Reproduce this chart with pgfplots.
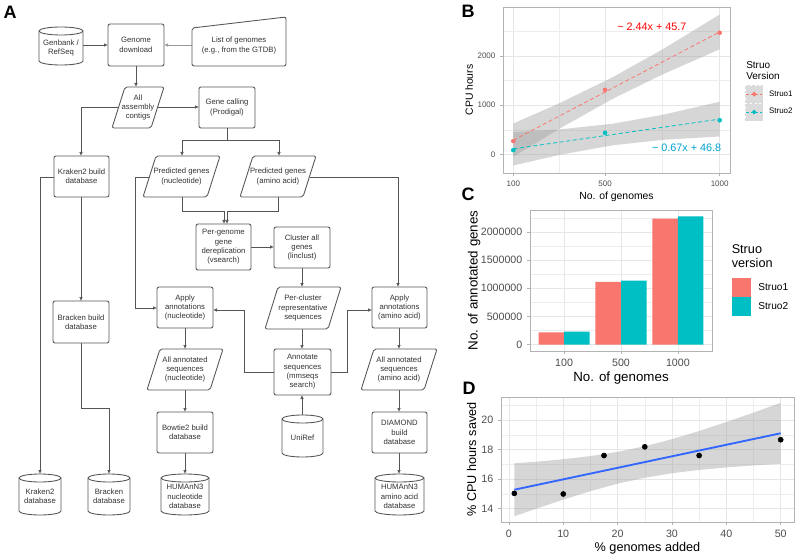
\documentclass[border=0pt]{standalone}
\usepackage{fontspec}
\setmainfont{Liberation Sans}
\usepackage{pgfplots}
\pgfplotsset{compat=1.18}
\usetikzlibrary{arrows.meta}
\definecolor{sone}{HTML}{F8766D}
\definecolor{stwo}{HTML}{00BFC4}
\definecolor{gridc}{HTML}{E6E6E6}
\definecolor{borderc}{HTML}{B3B3B3}
\definecolor{tickc}{HTML}{4D4D4D}
\definecolor{fl}{HTML}{555555}
\definecolor{smoothblue}{HTML}{3366FF}

\pgfplotsset{
  gg/.style={
    scale only axis,
    axis line style={borderc, line width=0.6pt},
    grid=both,
    major grid style={gridc, line width=0.5pt},
    minor grid style={gridc!70, line width=0.3pt},
    tick align=outside,
    tick pos=left,
    major tick length=2.2pt,
    minor tick length=0pt,
    tick style={borderc, line width=0.5pt},
    scaled ticks=false,
    /pgf/number format/assume math mode=true,
    ticklabel style={text=tickc},
  }
}
\tikzset{
  fctext/.style={align=center, font=\fontsize{5.8}{7}\selectfont, text=black!80, inner sep=0pt},
  fbox/.style={draw=fl, line width=0.65pt, fill=white},
  fe/.style={draw=fl, line width=0.5pt, -{Latex[length=3pt,width=2.6pt]}},
  fl0/.style={draw=fl, line width=0.5pt},
}
\newcommand{\rbox}[5]{%
  \draw[fbox, rounded corners=1.5pt] (#1,#2) rectangle (#3,#4);
  \node[fctext] at ({(#1+#3)/2},{(#2+#4)/2}) {#5};}
\newcommand{\pbox}[5]{%
  \draw[fbox, rounded corners=1.5pt] ({#1+13},#2) -- (#3,#2) -- ({#3-13},#4) -- (#1,#4) -- cycle;
  \node[fctext] at ({(#1+#3)/2},{(#2+#4)/2}) {#5};}
\newcommand{\cyl}[5]{%
  \pgfmathsetmacro\cylcx{(#1+#3)/2}\pgfmathsetmacro\cylrx{(#3-#1)/2}%
  \draw[fbox] (#1,{#2+4}) -- (#1,{#4-4}) arc[start angle=180, end angle=0, x radius=\cylrx, y radius=4] -- (#3,{#2+4}) arc[start angle=0, end angle=-180, x radius=\cylrx, y radius=4] -- cycle;
  \draw[fbox, fill=none] (#1,{#2+4}) arc[start angle=180, end angle=0, x radius=\cylrx, y radius=4];
  \node[fctext] at (\cylcx,{(#2+#4)/2+2}) {#5};}

\begin{document}
\begin{tikzpicture}
\path[use as bounding box] (0,0) rectangle (600pt,-417pt);

\begin{scope}[x=0.75pt,y=-0.75pt]
% panel letters
\node[font=\bfseries\fontsize{13.5}{14}\selectfont] at (10,12) {A};
\node[font=\bfseries\fontsize{13.5}{14}\selectfont] at (468,11) {B};
\node[font=\bfseries\fontsize{13.5}{14}\selectfont] at (468,194) {C};
\node[font=\bfseries\fontsize{13.5}{14}\selectfont] at (469,388) {D};

% edges
\draw[fe] (83,45) -- (108,45);
\draw[fe, draw=fl!60] (192,45) -- (164,45);
\draw[fe] (136,66) -- (136,87);
\draw[fe] (158,107) -- (199,107);
\draw[fe] (118,107) -- (81,107) -- (81,156);
\draw[fl0] (227,128) -- (227,140);
\draw[fe] (227,140) -- (182,140) -- (182,156);
\draw[fe] (227,140) -- (279,140) -- (279,156);
\draw[fe] (81,197) -- (81,301);
\draw[fe] (54,177) -- (40,177) -- (40,474);
\draw[fe] (81,343) -- (81,408) -- (109,408) -- (109,474);
\draw[fe] (150,177) -- (135,177) -- (135,308) -- (157,308);
\draw[fe] (182,197) -- (182,211) -- (224,211) -- (224,224);
\draw[fe] (278,197) -- (278,211) -- (227,211) -- (227,224);
\draw[fe] (310,177) -- (398,177) -- (398,287);
\draw[fe] (251,247) -- (274,247);
\draw[fe] (302,268) -- (302,287);
\draw[fe] (302,329) -- (302,349);
\draw[fe] (274,372) -- (244,372) -- (244,310) -- (213,310);
\draw[fe] (331,372) -- (347,372) -- (347,310) -- (372,310);
\draw[fe] (185,328) -- (185,349);
\draw[fe] (399,328) -- (399,349);
\draw[fe] (185,390) -- (185,412);
\draw[fe] (399,390) -- (399,412);
\draw[fe] (185,453) -- (185,474);
\draw[fe] (399,453) -- (399,474);
\draw[fe] (302,415) -- (302,395);

% boxes
\rbox{108}{24}{164}{66}{Genome\\download}
\rbox{199}{87}{255}{128}{Gene calling\\(Prodigal)}
\rbox{54}{156}{109}{197}{Kraken2 build\\database}
\rbox{196}{224}{251}{270}{Per-genome\\gene\\dereplication\\(vsearch)}
\rbox{274}{227}{330}{268}{Cluster all\\genes\\(linclust)}
\rbox{157}{287}{213}{328}{Apply\\annotations\\(nucleotide)}
\rbox{53}{301}{109}{343}{Bracken build\\database}
\rbox{372}{287}{427}{328}{Apply\\annotations\\(amino acid)}
\rbox{274}{349}{331}{395}{Annotate\\sequences\\(mmseqs\\search)}
\rbox{157}{412}{213}{453}{Bowtie2 build\\database}
\rbox{372}{412}{427}{453}{DIAMOND\\build\\database}

\pbox{112}{87}{164}{128}{All\\assembly\\contigs}
\pbox{143}{156}{220}{197}{Predicted genes\\(nucleotide)}
\pbox{240}{156}{316}{197}{Predicted genes\\(amino acid)}
\pbox{265}{287}{341}{329}{Per-cluster\\representative\\sequences}
\pbox{147}{349}{223}{390}{All annotated\\sequences\\(nucleotide)}
\pbox{361}{349}{437}{390}{All annotated\\sequences\\(amino acid)}

\draw[fbox, rounded corners=1.5pt] (192,28) -- (286,17) -- (286,66) -- (192,66) -- cycle;
\node[fctext] at (239,45.5) {List of genomes\\(e.g., from the GTDB)};

\cyl{39}{27}{83}{65}{Genbank /\\RefSeq}
\cyl{19}{474}{61}{515}{Kraken2\\database}
\cyl{88}{474}{130}{515}{Bracken\\database}
\cyl{161}{474}{209}{515}{HUMAnN3\\nucleotide\\database}
\cyl{282}{415}{323}{457}{UniRef}
\cyl{375}{474}{424}{515}{HUMAnN3\\amino acid\\database}

% legend titles
\node[anchor=north west, align=left, inner sep=0pt, font=\fontsize{7.5}{8.3}\selectfont] at (746,61.5) {Struo\\Version};
\node[anchor=north west, align=left, inner sep=0pt, font=\fontsize{9.5}{10.5}\selectfont] at (731.5,244.5) {Struo\\version};
\end{scope}

% ---------------- Panel B ----------------
\begin{axis}[gg, at={(377.25pt,-129.75pt)}, anchor=south west,
  width=170.25pt, height=124.5pt,
  xmin=55, xmax=1045, ymin=-377, ymax=2992,
  xtick={100,500,1000}, xticklabels={100,500,1000}, minor xtick={300,750},
  ytick={0,1000,2000}, yticklabels={0,1000,2000}, minor ytick={500,1500,2500},
  ticklabel style={font=\fontsize{6}{7}\selectfont},
  xlabel={No. of genomes}, ylabel={CPU hours},
  label style={font=\fontsize{7.8}{9}\selectfont},
  xlabel style={yshift=2.3pt}, ylabel style={yshift=-3.5pt},
  legend style={at={(1.066,0.53)}, anchor=north west, draw=none, fill=none,
    inner sep=0pt, font=\fontsize{6}{7}\selectfont, nodes={inner sep=0pt},
    /tikz/every odd column/.append style={column sep=4.5pt}},
  legend cell align=left,
  legend image code/.code={\fill[black!14] (0pt,-6.4pt) rectangle (12.75pt,6.4pt);
    \draw[mark repeat=2, mark phase=2, #1] plot coordinates {(0.6pt,0pt) (6.375pt,0pt) (12.15pt,0pt)};},
]
\addplot[fill=black!40, fill opacity=0.4, draw=none, forget plot] coordinates
  {(100,628) (300,1037) (533,1566) (750,2130) (1000,2839)
   (1000,2133) (750,1622) (533,1128) (300,519) (100,-48)} -- cycle;
\addplot[fill=black!40, fill opacity=0.4, draw=none, forget plot] coordinates
  {(100,452) (300,507) (533,623) (750,803) (1000,1070)
   (1000,364) (750,295) (533,185) (300,-11) (100,-224)} -- cycle;
\addplot[sone, line width=0.6pt, dash pattern=on 3pt off 2pt, forget plot] coordinates {(100,289.7) (1000,2485.7)};
\addplot[stwo, line width=0.6pt, dash pattern=on 3pt off 2pt, forget plot] coordinates {(100,113.8) (1000,716.8)};
\addplot[only marks, mark=*, mark size=1.5pt, sone, forget plot] coordinates {(100,270) (500,1310) (1000,2470)};
\addplot[only marks, mark=*, mark size=1.5pt, stwo, forget plot] coordinates {(100,87) (500,438) (1000,693)};
\addlegendimage{sone, line width=0.6pt, dash pattern=on 2pt off 1.5pt, mark=*, mark size=1.4pt, mark options={solid}}
\addlegendentry{Struo1}
\addlegendimage{stwo, line width=0.6pt, dash pattern=on 2pt off 1.5pt, mark=*, mark size=1.4pt, mark options={solid}}
\addlegendentry{Struo2}
\node[text=red, font=\fontsize{8.1}{9}\selectfont] at (axis cs:704,2586) {\textasciitilde{} 2.44x + 45.7};
\node[text=stwo!85!blue, font=\fontsize{8.1}{9}\selectfont] at (axis cs:856,141) {\textasciitilde{} 0.67x + 46.8};
\end{axis}

% ---------------- Panel C ----------------
\begin{axis}[gg, at={(397.5pt,-263.25pt)}, anchor=south west,
  width=136.5pt, height=105.75pt,
  xmin=0.4, xmax=3.6, ymin=-113750, ymax=2388750,
  xtick={1,2,3}, xticklabels={100,500,1000},
  ytick={0,500000,1000000,1500000,2000000},
  yticklabels={0,500000,1000000,1500000,2000000},
  minor ytick={250000,750000,1250000,1750000,2250000},
  minor xtick={},
  ticklabel style={font=\fontsize{8}{9}\selectfont},
  xlabel={No. of genomes}, ylabel={No. of annotated genes},
  label style={font=\fontsize{10}{11}\selectfont},
  xlabel style={yshift=3pt}, ylabel style={yshift=-6.5pt},
  legend style={at={(1.11,0.5177)}, anchor=north west, draw=none, fill=none,
    inner sep=0pt, font=\fontsize{7.6}{8.5}\selectfont, nodes={inner sep=0pt},
    /tikz/every odd column/.append style={column sep=5.3pt}},
  legend cell align=left,
]
\addplot[ybar, bar width=0.45, bar shift=-0.225, fill=sone, draw=none,
  legend image code/.code={\fill[sone] (0pt,-7.1pt) rectangle (14.25pt,7.1pt);}]
  coordinates {(1,215000) (2,1115000) (3,2235000)};
\addlegendentry{Struo1}
\addplot[ybar, bar width=0.45, bar shift=0.225, fill=stwo, draw=none,
  legend image code/.code={\fill[stwo] (0pt,-7.1pt) rectangle (14.25pt,7.1pt);}]
  coordinates {(1,230000) (2,1135000) (3,2275000)};
\addlegendentry{Struo2}
\end{axis}

% ---------------- Panel D ----------------
\begin{axis}[gg, at={(375.75pt,-391.5pt)}, anchor=south west,
  width=219.75pt, height=93.75pt,
  xmin=-1.45, xmax=52.45, ymin=13.1, ymax=21.58,
  xtick={0,10,20,30,40,50}, xticklabels={0,10,20,30,40,50},
  minor xtick={5,15,25,35,45},
  ytick={14,16,18,20}, yticklabels={14,16,18,20},
  minor ytick={15,17,19,21},
  ticklabel style={font=\fontsize{8}{9}\selectfont},
  xlabel={\% genomes added}, ylabel={\% CPU hours saved},
  label style={font=\fontsize{9.5}{10.5}\selectfont},
  xlabel style={yshift=3.2pt}, ylabel style={yshift=-3pt},
]
\addplot[fill=black!40, fill opacity=0.4, draw=none] coordinates
  {(1,17.09) (5,17.19) (10,17.36) (15,17.57) (20,17.86) (25,18.24) (30,18.72) (35,19.27) (40,19.88) (45,20.52) (50,21.19)
   (50,17.05) (45,16.94) (40,16.80) (35,16.63) (30,16.41) (25,16.10) (20,15.70) (15,15.19) (10,14.62) (5,14.00) (1,13.49)} -- cycle;
\addplot[smoothblue, line width=1.4pt] coordinates {(1,15.29) (50,19.12)};
\addplot[only marks, mark=*, mark size=1.9pt, black] coordinates
  {(1,15.04) (10,15.0) (17.5,17.61) (25,18.2) (35,17.61) (50,18.68)};
\end{axis}
\end{tikzpicture}
\end{document}
